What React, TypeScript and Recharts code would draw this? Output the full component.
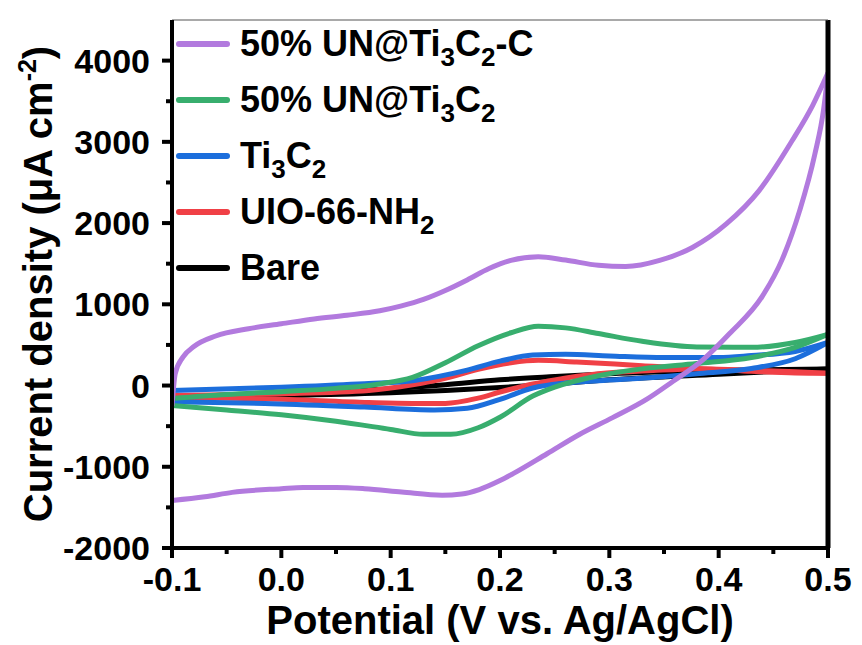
import React from "react";
import { LineChart, Line, XAxis, YAxis, ReferenceLine } from "recharts";

// ---- data: [potential (V), current density (µA cm^-2)] ----
const UNC_FORWARD: [number, number][] = [
  [-0.1, -250], [-0.097, 150], [-0.09, 350], [-0.08, 480], [-0.06, 610], [-0.03, 700],
  [0.0, 760], [0.03, 820], [0.06, 865], [0.09, 920], [0.11, 980], [0.13, 1060],
  [0.15, 1170], [0.17, 1300], [0.19, 1440], [0.21, 1540], [0.235, 1585], [0.26, 1545],
  [0.29, 1480], [0.315, 1465], [0.346, 1540], [0.376, 1700], [0.407, 1990], [0.437, 2400],
  [0.467, 3010], [0.486, 3450], [0.5, 3850],
];
const UNC_REVERSE: [number, number][] = [
  [-0.1, -1415], [-0.07, -1370], [-0.045, -1315], [0.0, -1270], [0.02, -1255],
  [0.05, -1255], [0.076, -1270], [0.11, -1310], [0.147, -1350], [0.165, -1335],
  [0.181, -1280], [0.2, -1170], [0.212, -1085], [0.243, -840], [0.273, -600],
  [0.303, -395], [0.334, -170], [0.358, 50], [0.385, 310], [0.41, 640], [0.44, 1100],
  [0.458, 1550], [0.474, 2150], [0.488, 2850], [0.496, 3400], [0.5, 3850],
];
const UN_FORWARD: [number, number][] = [
  [-0.1, -160], [-0.05, -110], [0.0, -75], [0.05, -35], [0.09, 20], [0.12, 100],
  [0.15, 280], [0.18, 490], [0.21, 650], [0.235, 730], [0.26, 710], [0.29, 640],
  [0.33, 545], [0.38, 475], [0.43, 470], [0.47, 530], [0.5, 630],
];
const UN_REVERSE: [number, number][] = [
  [-0.1, -245], [-0.05, -300], [0.0, -360], [0.05, -440], [0.1, -540], [0.13, -600],
  [0.155, -600], [0.18, -520], [0.2, -390], [0.23, -130], [0.25, -20], [0.29, 120],
  [0.33, 205], [0.38, 270], [0.43, 345], [0.47, 470], [0.5, 630],
];
const TI_FORWARD: [number, number][] = [
  [-0.1, -60], [0.0, -20], [0.07, 20], [0.12, 60], [0.17, 190], [0.2, 300],
  [0.23, 375], [0.26, 385], [0.3, 365], [0.35, 345], [0.4, 345], [0.43, 370],
  [0.47, 420], [0.5, 530],
];
const TI_REVERSE: [number, number][] = [
  [-0.1, -200], [-0.015, -220], [0.076, -265], [0.14, -300], [0.17, -280], [0.2, -170],
  [0.23, -30], [0.26, 30], [0.29, 60], [0.34, 100], [0.38, 145], [0.43, 210],
  [0.47, 330], [0.5, 530],
];
const UIO_FORWARD: [number, number][] = [
  [-0.1, -120], [0.0, -100], [0.08, -60], [0.12, 10], [0.15, 90], [0.18, 200],
  [0.21, 280], [0.235, 310], [0.27, 290], [0.33, 245], [0.38, 210], [0.43, 190],
  [0.47, 170], [0.5, 150],
];
const UIO_REVERSE: [number, number][] = [
  [-0.1, -140], [0.0, -170], [0.08, -210], [0.12, -220], [0.15, -220], [0.18, -155],
  [0.2, -80], [0.23, 20], [0.25, 70], [0.29, 145], [0.34, 185], [0.38, 205],
  [0.43, 175], [0.47, 155], [0.5, 150],
];
const BARE_FORWARD: [number, number][] = [
  [-0.1, -140], [0.0, -95], [0.1, -40], [0.15, 10], [0.2, 70], [0.25, 110],
  [0.3, 145], [0.4, 185], [0.5, 205],
];
const BARE_REVERSE: [number, number][] = [
  [-0.1, -150], [0.0, -125], [0.1, -90], [0.15, -60], [0.2, -25], [0.25, 20],
  [0.3, 70], [0.4, 140], [0.5, 205],
];

const X_TICKS = [-0.1, -0.05, 0, 0.05, 0.1, 0.15, 0.2, 0.25, 0.3, 0.35, 0.4, 0.45, 0.5];
const Y_TICKS = [-2000, -1500, -1000, -500, 0, 500, 1000, 1500, 2000, 2500, 3000, 3500, 4000];

type Part = { t: string; sub?: boolean };
const SERIES: { key: string; color: string; fwd: [number, number][]; rev: [number, number][]; label: Part[] }[] = [
  { key: "bare", color: "#000000", fwd: BARE_FORWARD, rev: BARE_REVERSE, label: [{ t: "Bare" }] },
  { key: "uio", color: "#F04046", fwd: UIO_FORWARD, rev: UIO_REVERSE, label: [{ t: "UIO-66-NH" }, { t: "2", sub: true }] },
  { key: "ti", color: "#1C6EDC", fwd: TI_FORWARD, rev: TI_REVERSE, label: [{ t: "Ti" }, { t: "3", sub: true }, { t: "C" }, { t: "2", sub: true }] },
  { key: "un", color: "#38AE6E", fwd: UN_FORWARD, rev: UN_REVERSE, label: [{ t: "50% UN@Ti" }, { t: "3", sub: true }, { t: "C" }, { t: "2", sub: true }] },
  { key: "unc", color: "#B27ADE", fwd: UNC_FORWARD, rev: UNC_REVERSE, label: [{ t: "50% UN@Ti" }, { t: "3", sub: true }, { t: "C" }, { t: "2", sub: true }, { t: "-C" }] },
];
const LEGEND_ORDER = ["unc", "un", "ti", "uio", "bare"];

const FONT = "'Liberation Sans', Arial, Helvetica, sans-serif";
const toPts = (arr: [number, number][]) => arr.map(([x, y]) => ({ x, y }));

const XTick = (props: any) => {
  const { x, y, payload } = props;
  const v = payload.value as number;
  const major = Math.round(v * 100) % 10 === 0;
  return (
    <g>
      <line x1={x} x2={x} y1={y} y2={y + (major ? 10 : 6)} stroke="#000" strokeWidth={4} />
      {major && (
        <text x={x} y={y + 43} textAnchor="middle" fontFamily={FONT} fontWeight="bold" fontSize={34} fill="#000">
          {v.toFixed(1)}
        </text>
      )}
    </g>
  );
};

const YTick = (props: any) => {
  const { x, y, payload } = props;
  const v = payload.value as number;
  const major = v % 1000 === 0;
  return (
    <g>
      <line x1={x - (major ? 10 : 6)} x2={x} y1={y} y2={y} stroke="#000" strokeWidth={4} />
      {major && (
        <text x={x - 22} y={y + 12} textAnchor="end" fontFamily={FONT} fontWeight="bold" fontSize={34} fill="#000">
          {String(v)}
        </text>
      )}
    </g>
  );
};

const XTitle = (props: any) => {
  const vb = props.viewBox;
  return (
    <text x={vb.x + vb.width / 2} y={vb.y + 86} textAnchor="middle" fontFamily={FONT} fontWeight="bold" fontSize={40} fill="#000">
      Potential (V vs. Ag/AgCl)
    </text>
  );
};

const YTitle = (props: any) => {
  const vb = props.viewBox;
  const cx = 52;
  const cy = vb.y + vb.height / 2;
  return (
    <text x={cx} y={cy} transform={`rotate(-90, ${cx}, ${cy})`} textAnchor="middle" fontFamily={FONT} fontWeight="bold" fontSize={40} fill="#000">
      Current density (μA cm
      <tspan fontSize={25} dy={-16}>-2</tspan>
      <tspan dy={16}>)</tspan>
    </text>
  );
};

export default function App() {
  const byKey: Record<string, (typeof SERIES)[number]> = {};
  SERIES.forEach((s) => (byKey[s.key] = s));
  return (
    <div style={{ position: "absolute", left: 0, top: 0, width: 862, height: 645, background: "#fff" }}>
      <LineChart width={862} height={645} margin={{ top: 20, right: 34, bottom: 0, left: 0 }}>
        <XAxis
          dataKey="x"
          type="number"
          domain={[-0.1, 0.5]}
          ticks={X_TICKS}
          interval={0}
          allowDataOverflow
          height={97}
          tickSize={0}
          tickMargin={0}
          tickLine={false}
          axisLine={{ stroke: "#000", strokeWidth: 4 }}
          tick={<XTick />}
          label={{ content: <XTitle /> }}
        />
        <YAxis
          type="number"
          domain={[-2000, 4500]}
          ticks={Y_TICKS}
          interval={0}
          allowDataOverflow
          width={172}
          tickSize={0}
          tickMargin={0}
          tickLine={false}
          axisLine={{ stroke: "#000", strokeWidth: 4 }}
          tick={<YTick />}
          label={{ content: <YTitle /> }}
        />
        {SERIES.flatMap((s) => [
          <Line key={s.key + "-f"} data={toPts(s.fwd)} dataKey="y" type="monotone" stroke={s.color} strokeWidth={5} dot={false} isAnimationActive={false} />,
          <Line key={s.key + "-r"} data={toPts(s.rev)} dataKey="y" type="monotone" stroke={s.color} strokeWidth={5} dot={false} isAnimationActive={false} />,
        ])}
        <ReferenceLine x={0.5} stroke="#000" strokeWidth={5} />
        <ReferenceLine y={4500} stroke="#555" strokeWidth={1.2} />
      </LineChart>
      <div style={{ position: "absolute", left: 176, top: 16, fontFamily: FONT, fontWeight: "bold", fontSize: 36, color: "#000" }}>
        {LEGEND_ORDER.map((k) => {
          const s = byKey[k];
          return (
            <div key={k} style={{ display: "flex", alignItems: "center", height: 56 }}>
              <div style={{ width: 54, height: 6, borderRadius: 3, background: s.color, marginRight: 10 }} />
              <span style={{ lineHeight: "42px", whiteSpace: "nowrap" }}>
                {s.label.map((p, i) =>
                  p.sub ? (
                    <span key={i} style={{ fontSize: 26, verticalAlign: -10, lineHeight: 0 }}>{p.t}</span>
                  ) : (
                    <span key={i}>{p.t}</span>
                  )
                )}
              </span>
            </div>
          );
        })}
      </div>
    </div>
  );
}
